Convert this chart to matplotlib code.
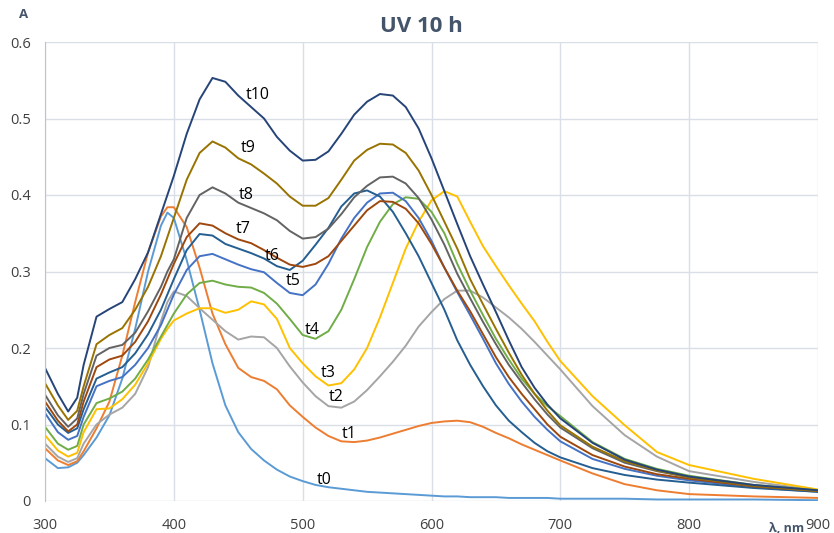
import matplotlib
matplotlib.use("Agg")
import matplotlib.pyplot as plt

plt.rcParams['font.family'] = ['Open Sans', 'DejaVu Sans']

# wavelength grid (nm)
wl = [300, 310, 318, 325, 330, 340, 350, 360, 370, 380, 390, 395, 400, 410, 420,
      430, 440, 450, 460, 470, 480, 490, 500, 510, 520, 530, 540, 550, 560, 570,
      580, 590, 600, 610, 620, 630, 640, 650, 660, 670, 680, 690, 700, 725, 750,
      775, 800, 850, 900]

t0 = [0.056, 0.043, 0.044, 0.050, 0.060, 0.083, 0.112, 0.160, 0.225, 0.300, 0.360, 0.377, 0.370, 0.315, 0.250,
      0.180, 0.125, 0.090, 0.068, 0.053, 0.041, 0.032, 0.026, 0.021, 0.018, 0.016, 0.014, 0.012, 0.011, 0.010,
      0.009, 0.008, 0.007, 0.006, 0.006, 0.005, 0.005, 0.005, 0.004, 0.004, 0.004, 0.004, 0.003, 0.003, 0.003,
      0.002, 0.002, 0.002, 0.001]
t1 = [0.069, 0.053, 0.047, 0.052, 0.065, 0.095, 0.130, 0.190, 0.260, 0.325, 0.372, 0.384, 0.384, 0.358, 0.305,
      0.245, 0.205, 0.174, 0.162, 0.157, 0.146, 0.125, 0.110, 0.096, 0.085, 0.078, 0.077, 0.079, 0.083, 0.088,
      0.093, 0.098, 0.102, 0.104, 0.105, 0.103, 0.097, 0.089, 0.082, 0.074, 0.067, 0.060, 0.053, 0.036, 0.022,
      0.014, 0.009, 0.006, 0.004]
t2 = [0.075, 0.058, 0.051, 0.056, 0.075, 0.100, 0.113, 0.122, 0.140, 0.175, 0.235, 0.260, 0.274, 0.268, 0.252,
      0.237, 0.222, 0.211, 0.215, 0.214, 0.200, 0.176, 0.155, 0.137, 0.124, 0.122, 0.130, 0.145, 0.163, 0.182,
      0.203, 0.228, 0.247, 0.264, 0.275, 0.275, 0.266, 0.253, 0.240, 0.225, 0.208, 0.190, 0.172, 0.124, 0.086,
      0.058, 0.039, 0.025, 0.014]
t3 = [0.086, 0.066, 0.058, 0.063, 0.090, 0.120, 0.121, 0.133, 0.152, 0.180, 0.212, 0.225, 0.236, 0.245, 0.252,
      0.252, 0.246, 0.250, 0.261, 0.257, 0.238, 0.200, 0.180, 0.163, 0.151, 0.154, 0.172, 0.200, 0.240, 0.285,
      0.330, 0.365, 0.393, 0.405, 0.398, 0.365, 0.333, 0.307, 0.282, 0.258, 0.235, 0.208, 0.183, 0.137, 0.099,
      0.064, 0.047, 0.029, 0.015]
t4 = [0.097, 0.075, 0.067, 0.072, 0.100, 0.128, 0.134, 0.143, 0.160, 0.185, 0.215, 0.230, 0.245, 0.270, 0.285,
      0.288, 0.283, 0.280, 0.279, 0.272, 0.258, 0.238, 0.217, 0.212, 0.222, 0.250, 0.290, 0.332, 0.365, 0.388,
      0.397, 0.395, 0.378, 0.350, 0.310, 0.275, 0.243, 0.212, 0.185, 0.160, 0.140, 0.124, 0.111, 0.077, 0.055,
      0.042, 0.033, 0.021, 0.014]
t5 = [0.115, 0.090, 0.080, 0.085, 0.110, 0.150, 0.157, 0.162, 0.178, 0.200, 0.230, 0.250, 0.270, 0.302, 0.320,
      0.323, 0.316, 0.309, 0.303, 0.299, 0.285, 0.272, 0.269, 0.283, 0.310, 0.343, 0.370, 0.390, 0.402, 0.403,
      0.392, 0.370, 0.340, 0.305, 0.273, 0.243, 0.212, 0.180, 0.153, 0.130, 0.110, 0.093, 0.078, 0.055, 0.042,
      0.033, 0.027, 0.018, 0.012]
t6 = [0.123, 0.100, 0.089, 0.095, 0.120, 0.160, 0.168, 0.175, 0.193, 0.218, 0.250, 0.270, 0.290, 0.328, 0.349,
      0.347, 0.336, 0.330, 0.324, 0.317, 0.307, 0.302, 0.314, 0.335, 0.357, 0.385, 0.402, 0.406, 0.398, 0.378,
      0.350, 0.320, 0.285, 0.250, 0.210, 0.178, 0.150, 0.125, 0.105, 0.090, 0.076, 0.065, 0.057, 0.043, 0.034,
      0.028, 0.024, 0.017, 0.012]
t7 = [0.130, 0.105, 0.091, 0.100, 0.130, 0.175, 0.185, 0.190, 0.208, 0.235, 0.270, 0.290, 0.310, 0.345, 0.363,
      0.360, 0.350, 0.342, 0.337, 0.328, 0.318, 0.309, 0.306, 0.310, 0.320, 0.340, 0.360, 0.380, 0.392, 0.391,
      0.382, 0.363, 0.336, 0.305, 0.275, 0.248, 0.218, 0.188, 0.162, 0.140, 0.120, 0.100, 0.084, 0.060, 0.045,
      0.035, 0.029, 0.019, 0.013]
t8 = [0.139, 0.112, 0.097, 0.108, 0.140, 0.190, 0.200, 0.204, 0.220, 0.248, 0.280, 0.300, 0.316, 0.370, 0.400,
      0.410, 0.402, 0.390, 0.383, 0.376, 0.367, 0.353, 0.343, 0.345, 0.356, 0.375, 0.397, 0.412, 0.423, 0.424,
      0.415, 0.396, 0.368, 0.335, 0.297, 0.265, 0.234, 0.205, 0.178, 0.155, 0.133, 0.113, 0.096, 0.069, 0.050,
      0.039, 0.031, 0.020, 0.013]
t9 = [0.154, 0.125, 0.106, 0.118, 0.150, 0.205, 0.217, 0.226, 0.250, 0.280, 0.320, 0.345, 0.370, 0.420, 0.455,
      0.470, 0.462, 0.448, 0.440, 0.428, 0.415, 0.398, 0.386, 0.386, 0.396, 0.420, 0.445, 0.459, 0.467, 0.466,
      0.455, 0.432, 0.400, 0.365, 0.330, 0.290, 0.257, 0.225, 0.194, 0.165, 0.140, 0.118, 0.099, 0.071, 0.052,
      0.040, 0.031, 0.020, 0.013]
t10 = [0.174, 0.140, 0.117, 0.135, 0.178, 0.241, 0.251, 0.260, 0.290, 0.325, 0.375, 0.400, 0.425, 0.480, 0.525,
       0.553, 0.548, 0.530, 0.515, 0.500, 0.476, 0.458, 0.445, 0.446, 0.457, 0.480, 0.505, 0.522, 0.532, 0.530,
       0.515, 0.487, 0.448, 0.405, 0.362, 0.320, 0.283, 0.247, 0.210, 0.175, 0.148, 0.126, 0.108, 0.076, 0.054,
       0.041, 0.032, 0.021, 0.014]

series = [t0, t1, t2, t3, t4, t5, t6, t7, t8, t9, t10]
names = ['t0', 't1', 't2', 't3', 't4', 't5', 't6', 't7', 't8', 't9', 't10']
colors = ['#5B9BD5', '#ED7D31', '#A5A5A5', '#FFC000', '#70AD47', '#4472C4',
          '#255E91', '#9E480E', '#636363', '#997300', '#264478']
# label anchor (nm, A)
lab_x = [517, 536, 526, 520, 507, 493, 476, 454, 456, 458, 465]
lab_y = [0.027, 0.088, 0.136, 0.167, 0.224, 0.287, 0.320, 0.356, 0.400, 0.461, 0.531]

fig = plt.figure(figsize=(8.34, 5.33), dpi=100)
ax = fig.add_axes([45/834, 1 - 501/533, (818 - 45)/834, (501 - 42)/533])

for y, c in zip(series, colors):
    ax.plot(wl, y, color=c, lw=1.4, solid_joinstyle='round')

for n, x, y in zip(names, lab_x, lab_y):
    ax.text(x, y, n, fontsize=11.5, color='black', ha='center', va='center')

ax.set_xlim(300, 900)
ax.set_ylim(0, 0.6)
ax.set_xticks([300, 400, 500, 600, 700, 800, 900])
ax.set_yticks([0, 0.1, 0.2, 0.3, 0.4, 0.5, 0.6])
ax.set_yticklabels(['0', '0.1', '0.2', '0.3', '0.4', '0.5', '0.6'])
ax.grid(True, color='#D9DEE7', lw=1)
ax.set_axisbelow(True)
for s in ['top', 'right', 'bottom']:
    ax.spines[s].set_visible(False)
ax.spines['left'].set_color('#B8C3D3')
ax.tick_params(length=0, labelsize=10.5, colors='#404040')
ax.tick_params(axis='x', pad=12)
ax.tick_params(axis='y', pad=10)

fig.text(421/834, 1 - 26/533, 'UV 10 h', fontsize=16, fontweight='bold',
         color='#44546A', ha='center', va='center')
fig.text(24/834, 1 - 15/533, 'A', fontsize=9.5, fontweight='bold',
         color='#44546A', ha='center', va='center')
fig.text(787/834, 1 - 528/533, 'λ, nm', fontsize=9, fontweight='bold',
         color='#44546A', ha='center', va='center')

fig.savefig('out.png', dpi=100)
